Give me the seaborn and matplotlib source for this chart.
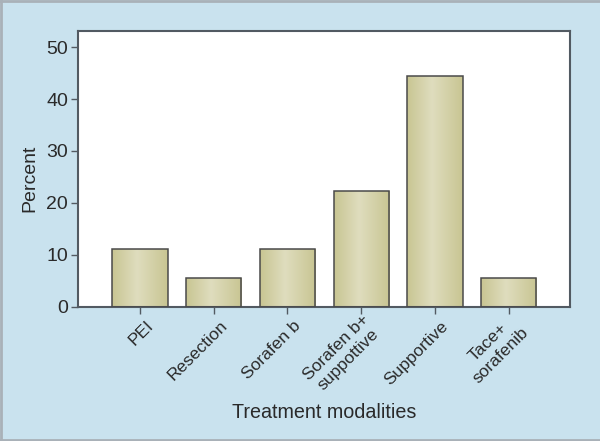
import numpy as np
import pandas as pd
import matplotlib
matplotlib.use("Agg")
import matplotlib.pyplot as plt
import matplotlib.transforms as mtransforms
from matplotlib.colors import LinearSegmentedColormap
from matplotlib.lines import Line2D
import seaborn as sns

# data
categories = ["PEI", "Resection", "Sorafen b", "Sorafen b+\nsuppottive", "Supportive", "Tace+\nsorafenib"]
percent = [11.1, 5.6, 11.1, 22.2, 44.4, 5.6]
yticks = [0, 10, 20, 30, 40, 50]

sns.set_theme(style="white")
plt.rcParams['font.family'] = ['Liberation Sans', 'DejaVu Sans']

fig = plt.figure(figsize=(6, 4.41), dpi=100)
fig.patch.set_facecolor('#c9e2ee')
ax = fig.add_axes([0.1295, 0.3045, 0.8205, 0.6252])
ax.set_facecolor('white')

df = pd.DataFrame({"Treatment": categories, "Percent": percent})
sns.barplot(data=df, x="Treatment", y="Percent", ax=ax, width=0.75,
            color="#d3d1a8", edgecolor="#4a4a4a", linewidth=1.1, zorder=2)

# khaki gradient fill, clipped to each bar
cmap = LinearSegmentedColormap.from_list(
    "khaki", [(0, "#c8c592"), (0.45, "#dfddbe"), (1, "#c8c592")])
grad = np.linspace(0, 1, 256).reshape(1, -1)
for bar in ax.patches:
    x0, y0 = bar.get_x(), bar.get_y()
    w, h = bar.get_width(), bar.get_height()
    im = ax.imshow(grad, cmap=cmap, extent=[x0, x0 + w, y0, y0 + h],
                   aspect='auto', zorder=2.5, interpolation='bilinear')
    im.set_clip_path(bar)
    bar.set_zorder(3)
    bar.set_facecolor('none')

ax.set_xlim(-0.844, 5.83)
ax.set_ylim(0, 53.1)
ax.set_yticks(yticks)

for s in ax.spines.values():
    s.set_visible(True)
    s.set_color('#525a62')
    s.set_linewidth(1.5)

ax.tick_params(axis='both', direction='out', length=5, width=1, color='#525a62',
               bottom=True, left=True, labelsize=14, labelcolor='#2a2a2a', pad=2)

offset = mtransforms.ScaledTranslation(11 / 100, -7 / 100, fig.dpi_scale_trans)
for lbl in ax.get_xticklabels():
    lbl.set_rotation(45)
    lbl.set_ha('right')
    lbl.set_va('center')
    lbl.set_rotation_mode('anchor')
    lbl.set_multialignment('center')
    lbl.set_fontsize(12.5)
    lbl.set_linespacing(1.2)
    lbl.set_transform(lbl.get_transform() + offset)

ax.set_xlabel("Treatment modalities", fontsize=14.2, color='#2a2a2a')
ax.xaxis.set_label_coords(0.5, -0.35)
ax.set_ylabel("Percent", fontsize=14, color='#2a2a2a')
ax.yaxis.set_label_coords(-0.08, 0.467)

# thin grey frame on top, left and bottom of the picture
for xs, ys in [([0, 1], [0.998, 0.998]), ([0.002, 0.002], [0, 1]), ([0, 1], [0.002, 0.002])]:
    fig.add_artist(Line2D(xs, ys, transform=fig.transFigure, color='#a9b1b8', lw=2))

fig.savefig("out.png", dpi=100, facecolor=fig.get_facecolor())
